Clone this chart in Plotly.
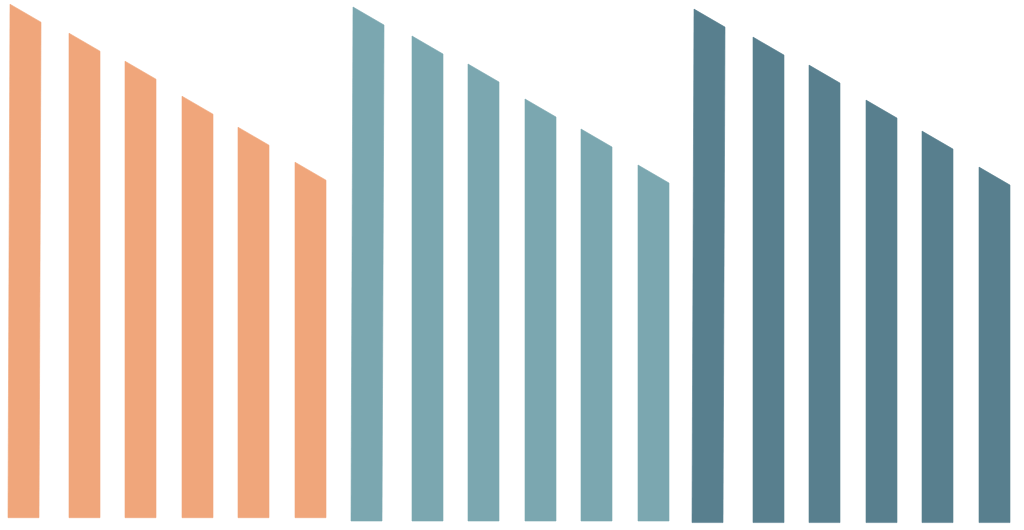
import plotly.graph_objects as go

# Data: bar heights (left-top edge) per group
groups = ["A", "B", "C"]
categories = ["1", "2", "3", "4", "5", "6"]
values_a = [513.5, 484.5, 456.5, 421.5, 390.5, 355.5]
values_b = [514, 485, 457, 422, 392, 356]
values_c = [513.5, 485.5, 457.5, 422.5, 391.5, 355.5]
series = [values_a, values_b, values_c]
colors = ["#F0A67B", "#7BA7B0", "#587F8E"]

# Layout constants (pixel-like data units)
group_start = [8, 351, 692]
group_base = [517.7, 521.0, 522.6]  # baseline position from top (slight perspective)
bar_offset = [0, 61, 117, 174, 230, 287]
bar_w = 31
slant = 18
W, H = 1024, 530
Y0 = 520  # y data 0 at this distance from top

fig = go.Figure()
for g, vals in enumerate(series):
    b = Y0 - group_base[g]
    for i, v in enumerate(vals):
        xl = group_start[g] + bar_offset[i]
        lean = 2 if i == 0 else 0
        xr = xl + bar_w
        xs = [xl, xl + lean, xr + lean, xr, xl]
        ys = [b, b + v, b + v - slant, b, b]
        fig.add_trace(go.Scatter(
            x=xs, y=ys, mode="lines", fill="toself",
            fillcolor=colors[g], line=dict(width=0.6, color=colors[g]),
            hoverinfo="skip", name=f"{groups[g]}{categories[i]}",
        ))

fig.update_layout(
    width=W, height=H,
    margin=dict(l=0, r=0, t=0, b=0),
    paper_bgcolor="white", plot_bgcolor="white",
    showlegend=False,
    xaxis=dict(range=[0, W], visible=False, fixedrange=True),
    yaxis=dict(range=[Y0 - H, Y0], visible=False, fixedrange=True),
)
fig.write_html(
    "out.html",
    config={"displayModeBar": False},
    post_script="document.body.style.margin='0';document.body.style.overflow='hidden';",
)
